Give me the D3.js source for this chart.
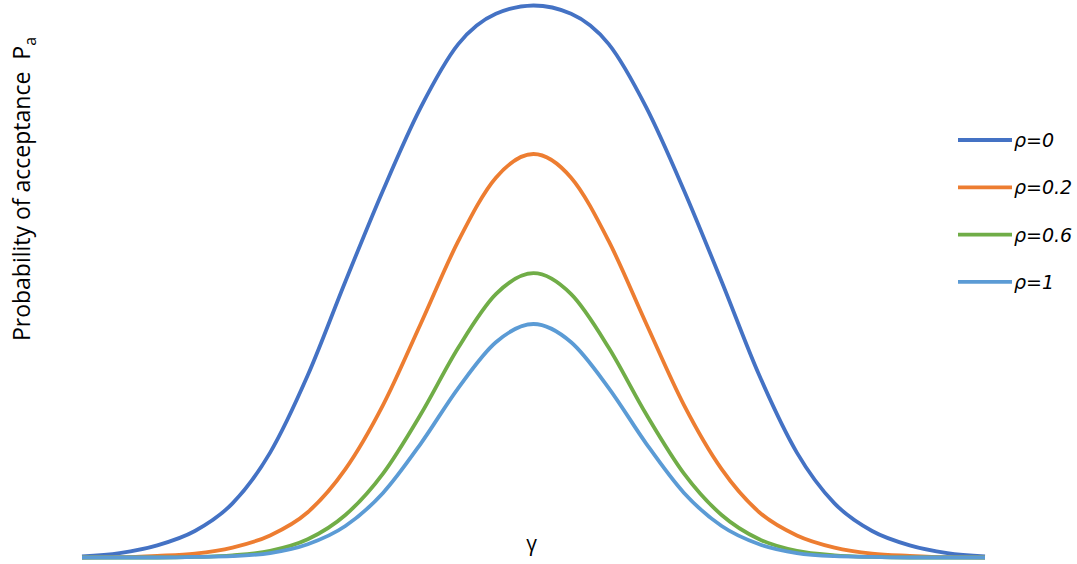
<!DOCTYPE html>
<html>
<head>
<meta charset="utf-8">
<script src="https://cdn.jsdelivr.net/npm/d3@7"></script>
<style>
	body { margin: 0; background: #ffffff; }
	svg { display: block; }
	.label { font-family: 'Open Sans', 'Noto Sans', sans-serif; fill: #000000; }
	.legend-text { font-family: 'DejaVu Sans', 'Open Sans', sans-serif; font-style: italic; fill: #000000; }
	.line { fill: none; stroke-linejoin: round; }
</style>
</head>
<body>
<script>

// gamma positions read along the horizontal extent of the curves
var gammaValues = [ -3, -2.75, -2.5, -2.25, -2, -1.75, -1.5, -1.25, -1, -0.75, -0.5, -0.25, 0,
	0.25, 0.5, 0.75, 1, 1.25, 1.5, 1.75, 2, 2.25, 2.5, 2.75, 3 ];

// probability of acceptance, relative to the rho=0 peak
var paRho0 = [ 0.002, 0.008, 0.022, 0.048, 0.098, 0.19, 0.33, 0.5, 0.665, 0.815, 0.93, 0.985, 1,
	0.985, 0.93, 0.815, 0.665, 0.5, 0.33, 0.19, 0.098, 0.048, 0.022, 0.008, 0.002 ];
var paRho02 = [ 0, 0.0005, 0.003, 0.007, 0.018, 0.04, 0.082, 0.16, 0.276, 0.423, 0.573, 0.688, 0.731,
	0.688, 0.573, 0.423, 0.276, 0.16, 0.082, 0.04, 0.018, 0.007, 0.003, 0.0005, 0 ];
var paRho06 = [ 0, 0, 0, 0.001, 0.004, 0.012, 0.033, 0.077, 0.152, 0.259, 0.38, 0.477, 0.515,
	0.477, 0.38, 0.259, 0.152, 0.077, 0.033, 0.012, 0.004, 0.001, 0, 0, 0 ];
var paRho1 = [ 0, 0, 0, 0.001, 0.0025, 0.008, 0.024, 0.057, 0.117, 0.206, 0.307, 0.39, 0.423,
	0.39, 0.307, 0.206, 0.117, 0.057, 0.024, 0.008, 0.0025, 0.001, 0, 0, 0 ];

var seriesLabels = [ 'ρ=0', 'ρ=0.2', 'ρ=0.6', 'ρ=1' ];
var seriesColors = [ '#4472C4', '#ED7D31', '#70AD47', '#5B9BD5' ];
var seriesValues = [ paRho0, paRho02, paRho06, paRho1 ];

var els = {};

var sizes = {
	width: 1077,
	height: 564
};

var plot = {
	left: 82,
	right: 985,
	top: 5.5,
	bottom: 557.5
};

els.svg = d3.select( 'body' ).append( 'svg' )
	.attr( 'width', sizes.width )
	.attr( 'height', sizes.height );

var scales = {};

scales.x = d3.scaleLinear()
	.domain( d3.extent( gammaValues ) )
	.range( [ plot.left, plot.right ] );

scales.y = d3.scaleLinear()
	.domain( [ 0, 1 ] )
	.range( [ plot.bottom, plot.top ] );

var line = d3.line()
	.x( function ( d ) { return scales.x( d.x ); } )
	.y( function ( d ) { return scales.y( d.y ); } )
	.curve( d3.curveMonotoneX );

els.lines = els.svg.append( 'g' ).attr( 'id', 'lines' );

seriesValues.forEach( function ( values, i ) {
	var points = gammaValues.map( function ( g, j ) {
		return { x: g, y: values[j] };
	} );
	els.lines.append( 'path' )
		.datum( points )
		.classed( 'line', true )
		.attr( 'd', line )
		.style( 'stroke', seriesColors[i] )
		.style( 'stroke-width', 3.8 );
} );

// axis titles
els.svg.append( 'text' )
	.classed( 'label', true )
	.attr( 'x', scales.x( 0 ) - 2 )
	.attr( 'y', 551 )
	.attr( 'text-anchor', 'middle' )
	.style( 'font-size', '21px' )
	.text( 'γ' );

var yTitle = els.svg.append( 'text' )
	.classed( 'label', true )
	.attr( 'transform', 'translate(30,189) rotate(-90)' )
	.attr( 'text-anchor', 'middle' )
	.style( 'font-size', '23px' );
yTitle.append( 'tspan' ).text( 'Probability of acceptance' );
yTitle.append( 'tspan' ).attr( 'dx', 12 ).text( 'P' );
yTitle.append( 'tspan' ).attr( 'dy', 6 ).style( 'font-size', '16px' ).text( 'a' );

// legend
els.legend = els.svg.append( 'g' ).attr( 'id', 'legend' );

seriesLabels.forEach( function ( label, i ) {
	var y = 140 + i * 47.3;
	els.legend.append( 'line' )
		.attr( 'x1', 958 )
		.attr( 'x2', 1012 )
		.attr( 'y1', y )
		.attr( 'y2', y )
		.style( 'stroke', seriesColors[i] )
		.style( 'stroke-width', 3.8 );
	els.legend.append( 'text' )
		.classed( 'legend-text', true )
		.attr( 'x', 1014 )
		.attr( 'y', y + 7 )
		.style( 'font-size', '19px' )
		.text( label );
} );

</script>
</body>
</html>
